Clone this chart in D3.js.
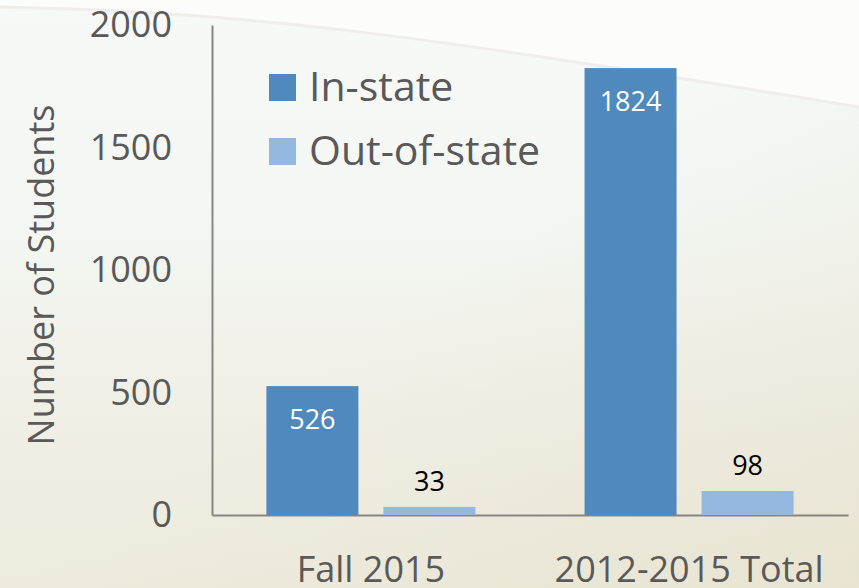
<!DOCTYPE html>
<html lang="en">
<head>
    <meta charset="UTF-8">
    <title>Students</title>
    <script src="https://d3js.org/d3.v7.min.js"></script>
    <style>
        body { margin: 0; }
        text { font-family: "Open Sans", "Noto Sans", sans-serif; }
    </style>
</head>
<body>
<script>
    // data
    categories = ["Fall 2015", "2012-2015 Total"]
    series = ["In-state", "Out-of-state"]
    inState = [526, 1824]
    outOfState = [33, 98]
    yTicks = [0, 500, 1000, 1500, 2000]
    colors = ["#4f89bd", "#95b8e0"]

    w = 859
    h = 588
    margin = {top: 25, right: 11, bottom: 73, left: 212}
    width = w - margin.left - margin.right
    height = h - margin.top - margin.bottom

    rows = categories.map((c, i) => ({name: c, values: [inState[i], outOfState[i]]}))

    svg = d3.select("body")
        .append("svg")
        .attr("width", w)
        .attr("height", h)

    //background
    defs = svg.append("defs")
    grad = defs.append("linearGradient")
        .attr("id", "bg")
        .attr("x1", 0).attr("y1", 0).attr("x2", 0).attr("y2", 1)
    grad.append("stop").attr("offset", "0").attr("stop-color", "#f6f9f7")
    grad.append("stop").attr("offset", "0.4").attr("stop-color", "#f3f6f1")
    grad.append("stop").attr("offset", "0.75").attr("stop-color", "#f0eee4")
    grad.append("stop").attr("offset", "1").attr("stop-color", "#eeebde")

    side = defs.append("linearGradient")
        .attr("id", "side")
        .attr("x1", 0).attr("y1", 0).attr("x2", 1).attr("y2", 1)
    side.append("stop").attr("offset", "0").attr("stop-color", "#d8cfb0").attr("stop-opacity", 0)
    side.append("stop").attr("offset", "0.5").attr("stop-color", "#d8cfb0").attr("stop-opacity", 0)
    side.append("stop").attr("offset", "1").attr("stop-color", "#d8cfb0").attr("stop-opacity", 0.25)

    svg.append("rect").attr("width", w).attr("height", h).attr("fill", "url(#bg)")
    svg.append("rect").attr("width", w).attr("height", h).attr("fill", "url(#side)")
    svg.append("path")
        .attr("d", "M0,0 L0,7 C250,12 420,35 859,107 L859,0 Z")
        .attr("fill", "#fcfcfa")
    svg.append("path")
        .attr("d", "M0,7 C250,12 420,35 859,107")
        .attr("fill", "none")
        .attr("stroke", "#f0eeeb")
        .attr("stroke-width", 3)

    g = svg.append("g")
        .attr("transform", "translate(" + margin.left + "," + margin.top + ")")

    //scales
    x0 = d3.scaleBand()
        .domain(categories)
        .range([0, width])
        .paddingInner(0.343)
        .paddingOuter(0.171)

    x1 = d3.scaleBand()
        .domain(series)
        .range([0, x0.bandwidth()])
        .paddingInner(0.214)

    y = d3.scaleLinear()
        .domain([0, 2000])
        .range([height, 0])

    //axes
    yAxis = g.append("g")
        .call(d3.axisLeft(y).tickValues(yTicks).tickSize(0).tickPadding(40).tickFormat(d3.format("d")))
    xAxis = g.append("g")
        .attr("transform", "translate(0," + height + ")")
        .call(d3.axisBottom(x0).tickSize(0).tickPadding(41))

    g.selectAll(".domain").attr("stroke", "#858585").attr("stroke-width", 2)
    g.selectAll(".tick text")
        .attr("fill", "#595959")
        .style("font-size", "36px")
        .style("font-family", "'Open Sans', sans-serif")

    //bars
    groups = g.selectAll("g.group")
        .data(rows)
        .enter()
        .append("g")
        .attr("class", "group")
        .attr("transform", (d) => "translate(" + x0(d.name) + ",0)")

    cells = groups.selectAll("g.cell")
        .data((d) => d.values.map((v, i) => ({series: series[i], i: i, value: v})))
        .enter()
        .append("g")
        .attr("class", "cell")

    cells.append("rect")
        .attr("x", (d) => x1(d.series))
        .attr("y", (d) => y(d.value))
        .attr("width", x1.bandwidth())
        .attr("height", (d) => height - y(d.value))
        .attr("fill", (d) => colors[d.i])

    //labels: inside end for in-state, outside end for out-of-state
    cells.append("text")
        .attr("x", (d) => x1(d.series) + x1.bandwidth() / 2)
        .attr("y", (d) => d.i == 0 ? y(d.value) + 43 : y(d.value) - 16)
        .attr("text-anchor", "middle")
        .attr("fill", (d) => d.i == 0 ? "#ffffff" : "#000000")
        .style("font-size", "27px")
        .text((d) => d.value)

    //y title
    svg.append("text")
        .attr("transform", "translate(54,275) rotate(-90)")
        .attr("text-anchor", "middle")
        .attr("fill", "#595959")
        .style("font-size", "36px")
        .text("Number of Students")

    //legend
    legend = svg.selectAll("g.legend")
        .data(series)
        .enter()
        .append("g")
        .attr("class", "legend")
        .attr("transform", (d, i) => "translate(269," + (74 + i * 64) + ")")

    legend.append("rect")
        .attr("width", 27)
        .attr("height", 27)
        .attr("fill", (d, i) => colors[i])

    legend.append("text")
        .attr("x", 40)
        .attr("y", 27)
        .attr("fill", "#595959")
        .style("font-size", "41px")
        .text((d) => d)
</script>
</body>
</html>
